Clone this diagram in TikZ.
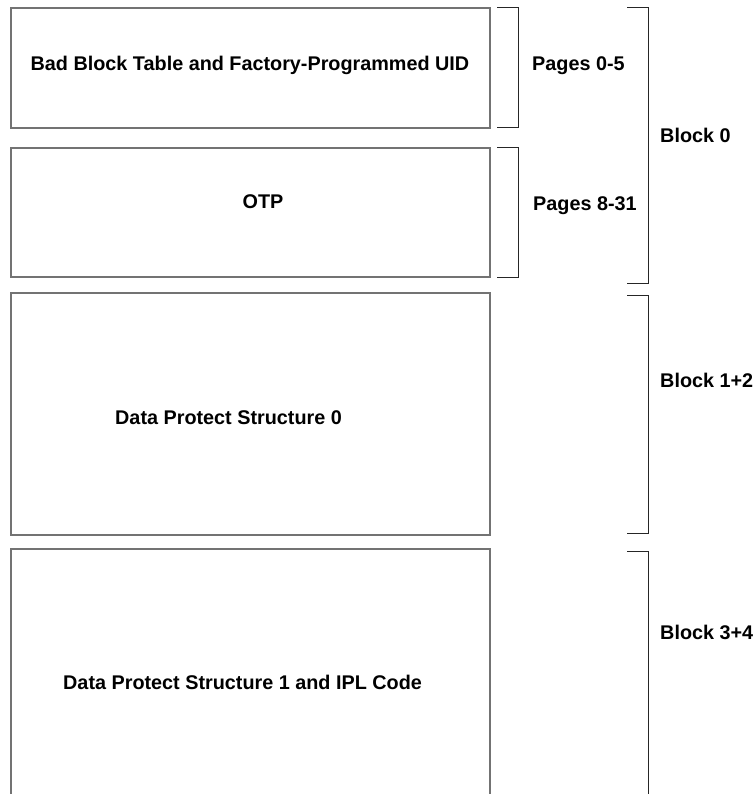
\documentclass[tikz,border=0pt]{standalone}
\usepackage{fontspec}
\setmainfont{Liberation Sans}
\usetikzlibrary{positioning}

\tikzset{
  area/.style={draw=black!55, line width=1.2pt, minimum width=479pt, inner sep=0pt, outer sep=0pt},
  txt/.style={font=\bfseries\fontsize{19.8}{24}\selectfont, inner sep=0pt, text height=14.3pt, text depth=0pt},
  bracket/.style={draw=black!85, line width=1pt},
}

\begin{document}
\begin{tikzpicture}[x=1pt,y=-1pt]
\clip (0,0) rectangle (753,794);
\fill[white] (0,0) rectangle (753,794);

\node[area, minimum height=120pt] (bbt) at (250.5,68) {};
\node[area, minimum height=129pt] (otp) at (250.5,212.5) {};
\node[area, minimum height=242pt] (dps0) at (250.5,414) {};
\node[area, minimum height=270pt] (dps1) at (250.5,684) {};

\node[txt] (bbtlbl) at (250,63) {Bad Block Table and Factory-Programmed UID};
\node[txt] (otplbl) at (263,201) {OTP};
\node[txt, anchor=west] (dps0lbl) at (115,417) {Data Protect Structure 0};
\node[txt, anchor=west] (dps1lbl) at (63,682) {Data Protect Structure 1 and IPL Code};

\coordinate (p0top) at (497,8);
\coordinate (p0bot) at (497,128);
\coordinate (p8top) at (497,148);
\coordinate (p8bot) at (497,277);
\draw[bracket] (p0top) -- ++(21,0) |- (p0bot);
\draw[bracket] (p8top) -- ++(21,0) |- (p8bot);
\node[txt, anchor=west] (pages05) at (532,63) {Pages 0-5};
\node[txt, anchor=west] (pages831) at (533,203) {Pages 8-31};

\coordinate (b0top) at (627,8);
\coordinate (b0bot) at (627,283);
\coordinate (b12top) at (627,295);
\coordinate (b12bot) at (627,533);
\coordinate (b34top) at (627,551);
\coordinate (b34bot) at (627,810);
\draw[bracket] (b0top) -- ++(21,0) |- (b0bot);
\draw[bracket] (b12top) -- ++(21,0) |- (b12bot);
\draw[bracket] (b34top) -- ++(21,0) |- (b34bot);
\node[txt, anchor=west] (block0) at (660,135) {Block 0};
\node[txt, anchor=west] (block12) at (660,380) {Block 1+2};
\node[txt, anchor=west] (block34) at (660,632) {Block 3+4};
\end{tikzpicture}
\end{document}
